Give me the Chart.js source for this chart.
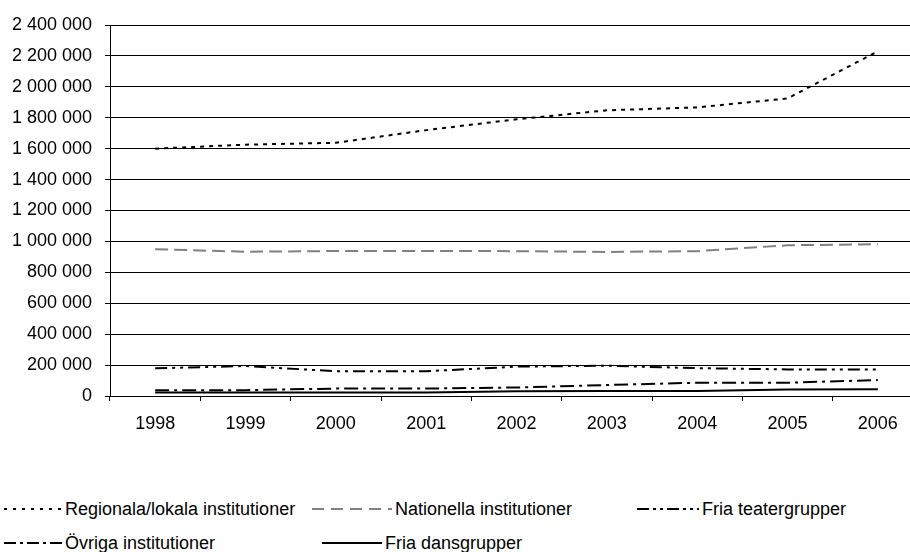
<!DOCTYPE html>
<html><head><meta charset="utf-8">
<script src="https://cdn.jsdelivr.net/npm/chart.js@4"></script>
<style>
html,body{margin:0;padding:0;background:#fff;overflow:hidden;width:910px;height:552px;position:relative}
#wrap{position:absolute;left:0;top:0;width:925px;height:440px}
.leg{position:absolute;height:22px;font:18px "Liberation Sans",Arial,sans-serif;color:#000;display:flex;align-items:center;white-space:nowrap}
.leg svg{display:block}
.leg span{margin-left:3px}
</style></head><body>
<div id="wrap"><canvas id="c"></canvas></div>
<div id="legend"></div>
<script>
const years = ['1998','1999','2000','2001','2002','2003','2004','2005','2006'];
const regionala  = [1600000,1626000,1638000,1720000,1790000,1848000,1867000,1925000,2230000];
const nationella = [950000,933000,938000,938000,937000,932000,937000,975000,982000];
const friaTeater = [179000,194000,160000,160000,190000,196000,180000,172000,172000];
const ovriga     = [37000,38000,48000,48000,55000,71000,86000,86000,103000];
const friaDans   = [22000,22000,22000,23000,30000,32000,32000,42000,44000];
const names = ['Regionala/lokala institutioner','Nationella institutioner','Fria teatergrupper','Övriga institutioner','Fria dansgrupper'];
const yMin = 0, yMax = 2400000, yStep = 200000;

const styles = [
  {color:'#000', dash:[4,5], legendDash:[3,6]},
  {color:'#808080', dash:[13,6], legendDash:[12,7]},
  {color:'#000', dash:[12,5,3,5,3,5], legendDash:[12,4,3,4,3,4]},
  {color:'#000', dash:[14,5,3,5], legendDash:[12,4,3,4]},
  {color:'#000', dash:[], legendDash:[]}
];
const values = [regionala, nationella, friaTeater, ovriga, friaDans];

function fmt(v){ return String(v).replace(/\B(?=(\d{3})+(?!\d))/g,' '); }
const FONT = '"Liberation Sans", Arial, sans-serif';

new Chart(document.getElementById('c'), {
  type:'line',
  data:{
    labels: years,
    datasets: values.map((d,i)=>({
      label: names[i], data: d, borderColor: styles[i].color, borderWidth: 2,
      borderDash: styles[i].dash, pointRadius: 0, tension: 0, fill: false,
      borderCapStyle:'butt'
    }))
  },
  options:{
    responsive:true, maintainAspectRatio:false, animation:false,
    layout:{padding:{top:25,right:2,left:0,bottom:0}},
    plugins:{legend:{display:false}, tooltip:{enabled:false}},
    scales:{
      x:{
        offset:true,
        grid:{offset:true, drawOnChartArea:false, tickLength:5, color:'#000', lineWidth:1},
        border:{color:'#000', width:1},
        ticks:{color:'#000', font:{family:FONT, size:18}, padding:12, maxRotation:0, autoSkip:false},
        afterFit(s){ s.height = 44; }
      },
      y:{
        min:yMin, max:yMax,
        grid:{color:'#000', lineWidth:1, tickLength:5},
        border:{color:'#000', width:1},
        ticks:{stepSize:yStep, color:'#000', font:{family:FONT, size:18}, padding:13, callback:(v)=>fmt(v)},
        afterFit(s){ s.width = 110; }
      }
    }
  }
});

const legPos = [
  {x:4, y:498, w:58},
  {x:312, y:498, w:80},
  {x:637, y:498, w:62},
  {x:4, y:532, w:58},
  {x:322, y:532, w:60}
];
const legEl = document.getElementById('legend');
names.forEach((n,i)=>{
  const p = legPos[i];
  const d = document.createElement('div');
  d.className='leg';
  d.style.left=p.x+'px'; d.style.top=p.y+'px';
  const dash = styles[i].legendDash.join(',');
  d.innerHTML = '<svg width="'+p.w+'" height="4"><line x1="0" y1="2" x2="'+p.w+'" y2="2" stroke="'+styles[i].color+'" stroke-width="2"'+(dash?' stroke-dasharray="'+dash+'"':'')+'/></svg>';
  const t = document.createElement('span'); t.textContent = n; d.appendChild(t);
  legEl.appendChild(d);
});
</script>
</body></html>
